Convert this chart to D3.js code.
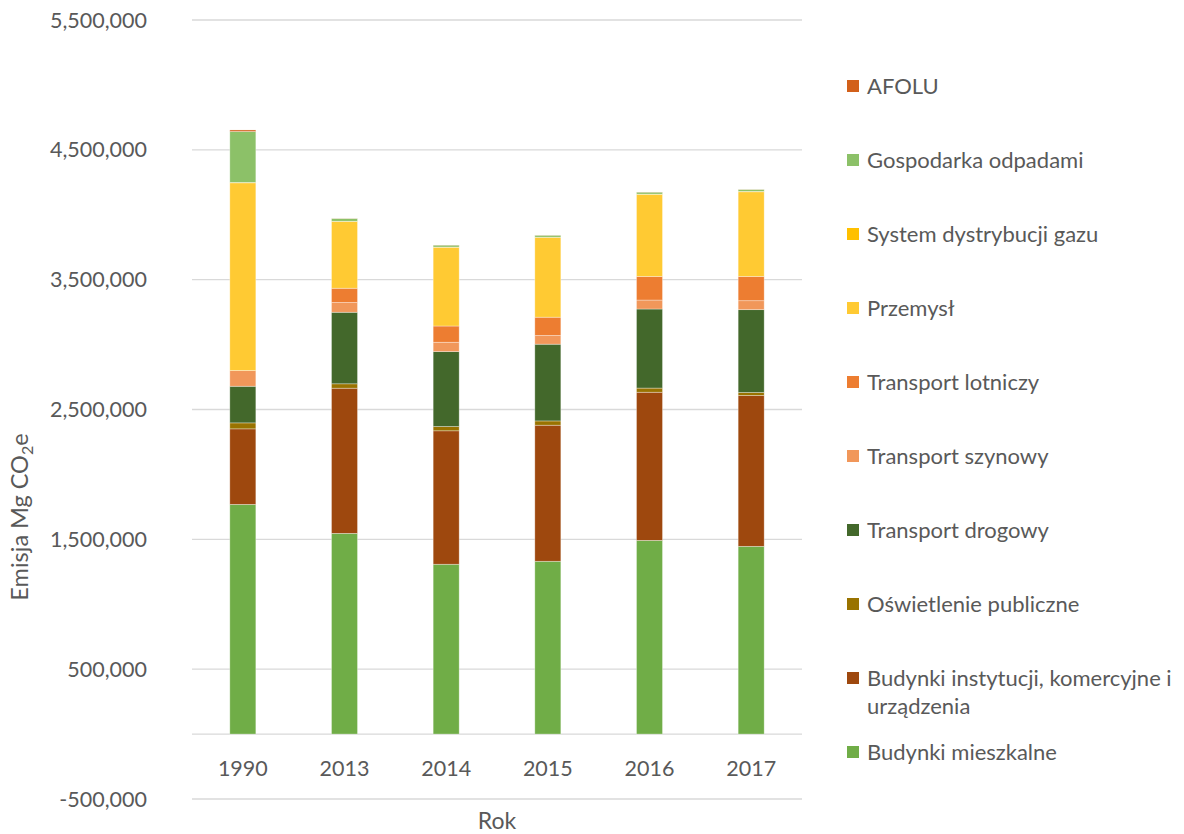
<!DOCTYPE html>
<html>
<head>
<meta charset="utf-8">
<script src="https://cdn.jsdelivr.net/npm/d3@7"></script>
<style>
  html, body { margin: 0; padding: 0; background: #fff; }
  svg { display: block; font-family: Lato, "Open Sans", sans-serif; }
</style>
</head>
<body>
<svg id="chart" width="1184" height="834"></svg>
<script>
const years = ["1990", "2013", "2014", "2015", "2016", "2017"];

const seriesNames = [
  "Budynki mieszkalne",
  "Budynki instytucji, komercyjne i urządzenia",
  "Oświetlenie publiczne",
  "Transport drogowy",
  "Transport szynowy",
  "Transport lotniczy",
  "Przemysł",
  "System dystrybucji gazu",
  "Gospodarka odpadami",
  "AFOLU"
];

const budynkiMieszkalne   = [1769000, 1546000, 1308000, 1331000, 1492000, 1446000];
const budynkiInstytucji   = [582000, 1118000, 1028000, 1048000, 1141000, 1162000];
const oswietlenie         = [46000, 34000, 33000, 33000, 32000, 23000];
const transportDrogowy    = [282000, 551000, 577000, 591000, 609000, 638000];
const transportSzynowy    = [121000, 75000, 72000, 67000, 69000, 69000];
const transportLotniczy   = [0, 110000, 125000, 141000, 182000, 187000];
const przemysl            = [1446000, 513000, 605000, 613000, 631000, 652000];
const systemGazu          = [3000, 3000, 3000, 3000, 3000, 3000];
const gospodarkaOdpadami  = [392000, 21000, 15000, 15000, 15000, 15000];
const afolu               = [12000, 1000, 1000, 1000, 1000, 1000];

const yTicks = [-500000, 500000, 1500000, 2500000, 3500000, 4500000, 5500000];

const colors = ["#70AD47", "#9E480E", "#997300", "#43682B", "#F1975A",
                "#ED7D31", "#FFCA33", "#FFC000", "#8CC168", "#D2601A"];

const allSeries = [budynkiMieszkalne, budynkiInstytucji, oswietlenie, transportDrogowy,
  transportSzynowy, transportLotniczy, przemysl, systemGazu, gospodarkaOdpadami, afolu];

const table = years.map((y, i) => {
  const row = { year: y };
  seriesNames.forEach((n, k) => row[n] = allSeries[k][i]);
  return row;
});

const svg = d3.select("#chart");
const x = d3.scaleBand().domain(years).range([192, 802]).paddingInner(0.744).paddingOuter(0.372);
const y = d3.scaleLinear().domain([-500000, 5500000]).range([799, 20]);

// gridlines
svg.append("g").selectAll("line").data(yTicks.concat([0])).join("line")
  .attr("x1", 192).attr("x2", 802)
  .attr("y1", d => y(d)).attr("y2", d => y(d))
  .attr("stroke", "#D9D9D9").attr("stroke-width", 1.3);

// y tick labels
const fmt = d3.formatLocale({ decimal: ".", thousands: ",", grouping: [3], currency: ["", ""], minus: "-" }).format(",");
svg.append("g").selectAll("text").data(yTicks).join("text")
  .attr("x", 147).attr("y", d => y(d)).attr("dy", "0.35em")
  .attr("text-anchor", "end").attr("fill", "#595959").attr("font-size", 21.5)
  .text(d => fmt(d));

// stacked bars
const stack = d3.stack().keys(seriesNames);
const stacked = stack(table);
svg.append("g").selectAll("g").data(stacked).join("g")
  .attr("fill", (d, i) => colors[i])
  .selectAll("rect").data(d => d).join("rect")
  .attr("x", d => x(d.data.year))
  .attr("width", x.bandwidth())
  .attr("y", d => y(d[1]))
  .attr("height", d => Math.max(0, y(d[0]) - y(d[1])))
  .attr("stroke", "#fff").attr("stroke-opacity", 0.45).attr("stroke-width", 0.75);

// x labels
svg.append("g").selectAll("text").data(years).join("text")
  .attr("x", d => x(d) + x.bandwidth() / 2).attr("y", 768).attr("dy", "0.35em")
  .attr("text-anchor", "middle").attr("fill", "#595959").attr("font-size", 21.5)
  .text(d => d);

// axis titles
svg.append("text").attr("x", 497).attr("y", 821).attr("dy", "0.35em")
  .attr("text-anchor", "middle").attr("fill", "#595959").attr("font-size", 23).text("Rok");

const yt = svg.append("text").attr("transform", "translate(20,517) rotate(-90)")
  .attr("dy", "0.35em").attr("text-anchor", "middle").attr("fill", "#595959").attr("font-size", 23.5);
yt.append("tspan").text("Emisja Mg CO");
yt.append("tspan").attr("font-size", 16).attr("dy", "5").text("2");
yt.append("tspan").attr("dy", "-5").text("e");

// legend
const legendNames = seriesNames.slice().reverse();
const legendColors = colors.slice().reverse();
const lg = svg.append("g");
legendNames.forEach((n, i) => {
  const cy = 86 + 74 * i;
  lg.append("rect").attr("x", 847).attr("y", cy - 6).attr("width", 12).attr("height", 12)
    .attr("fill", legendColors[i]);
  const t = lg.append("text").attr("x", 867).attr("y", cy).attr("dy", "0.35em")
    .attr("fill", "#595959").attr("font-size", 22);
  if (n.startsWith("Budynki instytucji")) {
    t.append("tspan").attr("x", 867).text("Budynki instytucji, komercyjne i");
    t.append("tspan").attr("x", 867).attr("dy", "28").text("urządzenia");
  } else {
    t.text(n);
  }
});
</script>
</body>
</html>
